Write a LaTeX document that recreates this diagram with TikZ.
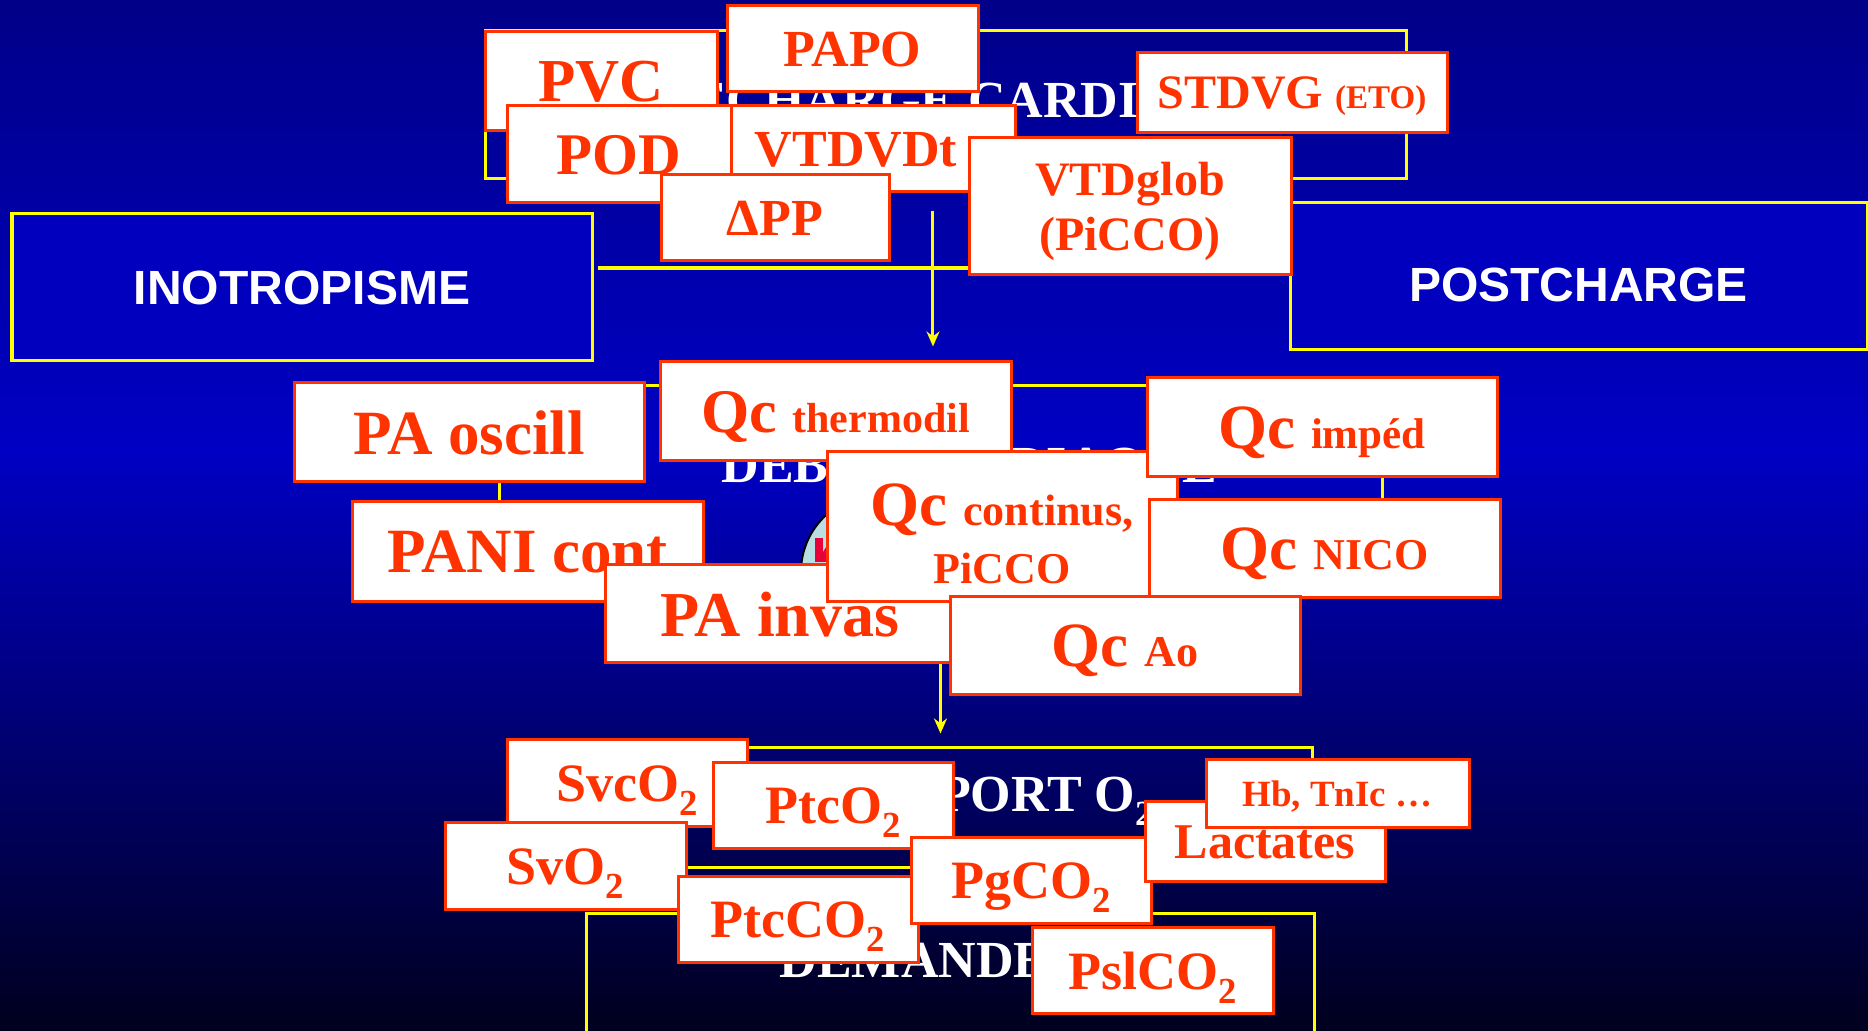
\documentclass[tikz,border=0pt]{standalone}
\usepackage{fontspec}
\setmainfont{Liberation Serif}
\setsansfont{Liberation Sans}
\usepackage{tikz}
\usetikzlibrary{arrows.meta}
\usetikzlibrary{positioning}

\definecolor{bgtop}{RGB}{0,0,136}
\definecolor{bgmid}{RGB}{0,0,196}
\definecolor{bgbot}{RGB}{0,0,30}
\definecolor{boxblue}{RGB}{0,0,190}
\definecolor{lineyel}{RGB}{255,255,0}
\definecolor{tagred}{RGB}{255,51,0}
\definecolor{heartbg}{RGB}{184,224,228}
\definecolor{heartred}{RGB}{232,0,56}

\newcommand{\pxsize}[2]{\fontsize{\fpeval{(#1)*0.2845}pt}{\fpeval{(#2)*0.2845}pt}\selectfont}
\newcommand{\tagsize}[1]{\bfseries\pxsize{#1}{#1*1.15}}
\newcommand{\sublow}[1]{\raisebox{-0.26em}{\scalebox{0.68}{#1}}}

\tikzset{
  tag/.style 2 args={draw=tagred, line width=0.03cm, fill=white, text=tagred,
    inner sep=0pt, minimum width=#1*0.01cm, minimum height=#2*0.01cm,
    text depth=0pt, align=center},
  panel/.style 2 args={draw=lineyel, line width=0.03cm, inner sep=0pt,
    minimum width=#1*0.01cm, minimum height=#2*0.01cm},
  heading/.style={text=white, font=\bfseries\pxsize{52}{60}, inner sep=0pt, anchor=base west},
  link/.style={draw=lineyel, line width=0.035cm},
  flow/.style={draw=lineyel, line width=0.03cm, -{Stealth[length=0.15cm, width=0.13cm]}},
}

\begin{document}
\begin{tikzpicture}[x=0.01cm, y=-0.01cm]
        \useasboundingbox (0,0) rectangle (1868,1031);
        \clip (0,0) rectangle (1868,1031);
        \shade[top color=bgtop, bottom color=bgmid] (0,0) rectangle (1868,450);
        \shade[top color=bgmid, bottom color=bgbot] (0,449) rectangle (1868,1031);

        \node[panel={921}{148}] (precharge) at (945.5,105) {};
        \node[panel={580}{147}, fill=boxblue, text=white, font=\sffamily\bfseries\pxsize{48}{55}] (ino) at (302,287.5) {INOTROPISME};
        \node[panel={577}{147}, fill=boxblue, text=white, font=\sffamily\bfseries\pxsize{48}{55},
              text height=0.5cm, text depth=0pt] (post) at (1578.5,276.5) {POSTCHARGE};
        \node[panel={883}{204}] (debit) at (940.5,488) {};
        \node[panel={726}{120}] (transport) at (949,808) {};
        \node[panel={728}{146}] (demande) at (950,987) {};

        \node[heading, anchor=base] (pretitle) at (956,118) {PRECHARGE CARDIAQUE};
        \node[heading] (debtitle) at (721,483) {DEBIT CARDIAQUE};
        \node[heading] (trtitle) at (762,812) {TRANSPORT O\sublow{2}};
        \node[heading] (demtitle) at (779,978) {DEMANDE};

        \draw[link, shorten <=0.04cm] ([yshift=0.195cm]ino.east) -- ([yshift=0.195cm]ino.east -| post.west);
        \draw[flow, shorten <=0.3cm, shorten >=0.38cm] ([xshift=-0.125cm]precharge.south) -- ([xshift=-0.125cm]precharge.south |- debit.north);
        \draw[flow, shorten >=0.13cm] (debit.south) -- (debit.south |- transport.north);

        \draw[fill=heartbg, line width=0.02cm] (878,572) circle[radius=0.77cm];
        \fill[heartred] (815,538) rectangle (823,562);
        \fill[heartred] (823,552) -- (828,544) -- (828,562) -- (823,562) -- cycle;

        \node[tag={232}{99}, font=\tagsize{61}] (pvc) at (601,81.5) {PVC};
        \node[tag={251}{86}, font=\tagsize{52}] (papo) at (852.5,49) {PAPO};
        \node[tag={224}{97}, font=\tagsize{59}] (pod) at (619,154.5) {POD};
        \node[tag={284}{86}, font=\tagsize{52}] (vtdvdt) at (873,149) {VTDVDt\hspace*{0.34cm}};
        \node[tag={228}{86}, font=\tagsize{52}] (dpp) at (775,218) {ΔPP};
        \node[tag={322}{137}, font=\tagsize{48}] (vtdglob) at (1130,206.5) {VTDglob\\(PiCCO)};
        \node[tag={310}{80}, font=\tagsize{48}] (stdvg) at (1292,93) {STDVG {\pxsize{33}{38}(ETO)}};

        \node[tag={350}{99}, font=\tagsize{63}] (osc) at (469,432.5) {PA oscill};
        \node[tag={351}{99}, font=\tagsize{62}] (thermo) at (835.5,411.5) {Qc {\pxsize{42}{48}thermodil}};
        \node[tag={351}{100}, font=\tagsize{63}] (pani) at (527.5,552) {PANI cont};
        \node[tag={350}{98}, font=\tagsize{64}] (invas) at (780,614) {PA invas};
        \node[tag={350}{150}, font=\bfseries\pxsize{63}{57}, text height=1.12cm] (contin) at (1002,527) {Qc {\pxsize{44}{50}continus,}\\{\pxsize{44}{50}PiCCO}};
        \node[tag={350}{99}, font=\tagsize{63}] (imped) at (1322,427.5) {Qc {\pxsize{43}{49}impéd}};
        \node[tag={351}{98}, font=\tagsize{63}] (nico) at (1324.5,549) {Qc {\pxsize{44}{50}NICO}};
        \node[tag={350}{98}, font=\tagsize{63}] (ao) at (1125,646) {Qc {\pxsize{44}{50}Ao}};

        \node[tag={240}{87}, font=\tagsize{54}] (svco) at (627,783.5) {SvcO\sublow{2}};
        \node[tag={240}{86}, font=\tagsize{54}] (ptco) at (833,806) {PtcO\sublow{2}};
        \node[tag={241}{87}, font=\tagsize{54}] (svo) at (565.5,866.5) {SvO\sublow{2}};
        \node[tag={240}{86}, font=\tagsize{54}] (ptcco) at (798,920) {PtcCO\sublow{2}};
        \node[tag={240}{86}, font=\tagsize{54}] (pgco) at (1031,881) {PgCO\sublow{2}};
        \node[tag={240}{80}, font=\tagsize{50}] (lact) at (1265,842) {Lactates};
        \node[tag={263}{68}, font=\tagsize{37}] (hb) at (1337.5,794) {Hb, TnIc …};
        \node[tag={241}{86}, font=\tagsize{54}] (pslco) at (1152.5,971) {PslCO\sublow{2}};
    \end{tikzpicture}
\end{document}
